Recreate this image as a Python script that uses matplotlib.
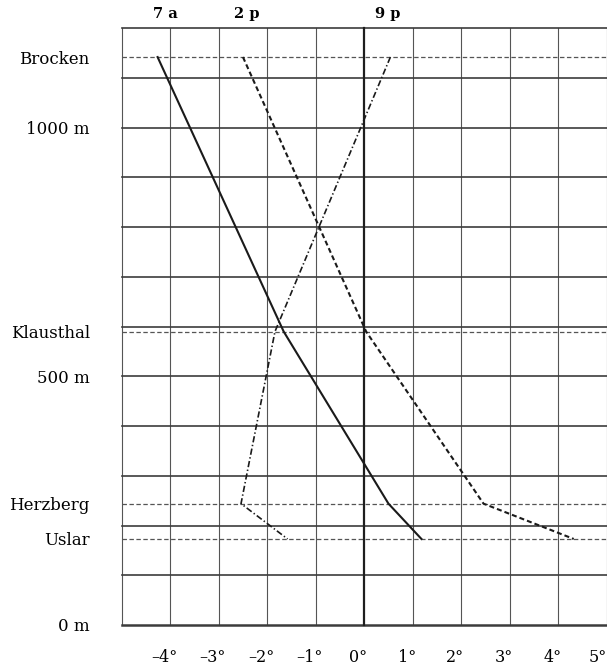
import matplotlib
matplotlib.use("Agg")
import matplotlib.pyplot as plt
import matplotlib.transforms as mtransforms
import numpy as np

# station heights (m) and temperatures (deg C)
stations = ["Brocken", "Klausthal", "Herzberg", "Uslar"]
heights = [1142, 590, 244, 173]
temp_7a = [-4.26, -1.66, 0.50, 1.18]
temp_2p = [-2.50, 0.04, 2.46, 4.32]
temp_9p = [0.54, -1.84, -2.54, -1.58]

series_names = ["7 a", "2 p", "9 p"]
height_ticks = [0, 500, 1000]
height_labels = ["0 m", "500 m", "1000 m"]
x_ticks = [-4, -3, -2, -1, 0, 1, 2, 3, 4, 5]
x_labels = ["–4°", "–3°", "–2°", "–1°", "0°", "1°", "2°", "3°", "4°", "5°"]

plt.rcParams["font.family"] = ["DejaVu Serif"]
plt.rcParams["lines.scale_dashes"] = False

fig = plt.figure(figsize=(6.07, 6.69), dpi=100)
ax = fig.add_axes([0.2005, 0.0658, 0.799, 0.892])
ax.set_xlim(-5, 5)
ax.set_ylim(0, 1200)
for s in ax.spines.values():
    s.set_visible(False)

# grid: 1 degree by 100 m
for xv in range(-5, 6):
    if xv == 0:
        ax.axvline(xv, color="#1e1e1e", lw=1.6, zorder=2, clip_on=False)
    else:
        ax.axvline(xv, color="#555555", lw=0.8, zorder=1, clip_on=False)
for yv in range(0, 1201, 100):
    lw = 1.8 if yv == 0 else 1.2
    ax.axhline(yv, color="#3c3c3c", lw=lw, zorder=1, clip_on=False)

# station levels
for h in heights:
    ax.axhline(h, color="#555555", lw=0.9, dashes=(3.2, 1.8), zorder=1)

ax.plot(temp_7a, heights, color="#1a1a1a", lw=1.5, zorder=3)
ax.plot(temp_2p, heights, color="#1a1a1a", lw=1.5, dashes=(3.6, 2.2), zorder=3)
ax.plot(temp_9p, heights, color="#1a1a1a", lw=1.2, dashes=(4.5, 1.8, 1, 1.8), zorder=3)

# series names above the starting points
nudges = [0.16, 0.08, -0.06]
for name, vals, dx in zip(series_names, [temp_7a, temp_2p, temp_9p], nudges):
    ax.text(vals[0] + dx, 1.024, name, transform=ax.get_xaxis_transform(),
            ha="center", va="center", fontsize=10.5, fontweight="bold",
            clip_on=False)

ytick_pos = heights + height_ticks
ytick_lab = stations + height_labels
ax.set_yticks(ytick_pos)
ax.set_yticklabels(ytick_lab, fontsize=12)
ax.tick_params(axis="y", length=0, pad=23)

ax.set_xticks(x_ticks)
ax.set_xticklabels(x_labels, fontsize=11.5)
ax.tick_params(axis="x", length=0, pad=17)
labs = ax.get_xticklabels()
for i, lab in enumerate(labs):
    dx = -9 if i == len(labs) - 1 else -6
    shift = mtransforms.ScaledTranslation(dx / 100, 0, fig.dpi_scale_trans)
    lab.set_transform(lab.get_transform() + shift)

fig.savefig("out.png", dpi=100)
